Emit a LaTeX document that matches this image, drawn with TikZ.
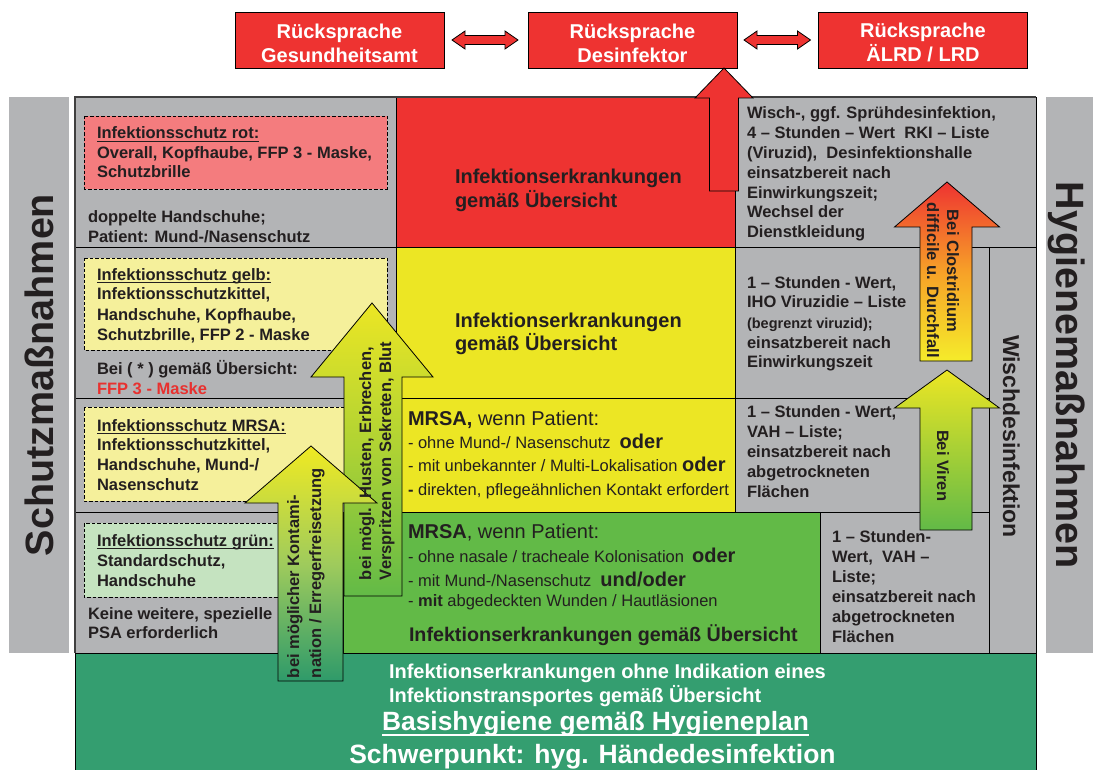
\documentclass[tikz,border=0pt]{standalone}
\usepackage{fontspec}
\setmainfont{Liberation Sans}
\usetikzlibrary{calc}
\definecolor{cgray}{HTML}{B3B4B6}
\definecolor{cred}{HTML}{EE3331}
\definecolor{cyel}{HTML}{ECE624}
\definecolor{cgrn}{HTML}{62BA47}
\definecolor{cdgrn}{HTML}{349E70}
\definecolor{cpink}{HTML}{F47C7E}
\definecolor{clyel}{HTML}{F5F09B}
\definecolor{clgrn}{HTML}{C5E3C0}
\definecolor{ctxt}{HTML}{231F20}
\definecolor{ctred}{HTML}{E8312F}
\newcommand\fsz[2]{\fontsize{#1}{#2}\selectfont}
\newcommand\mlines[1]{\vtop{\halign{##\hfil\cr#1\crcr}}}
\newcommand\myul[1]{\setbox0=\hbox{#1}\rlap{\rule[-3pt]{\wd0}{1.3pt}}\box0}
\newcommand\mybigul[1]{\setbox0=\hbox{#1}\rlap{\rule[-6pt]{\wd0}{2pt}}\box0}
\newcommand\dblarrow[2]{\draw[arr, fill=cred] (#1) -- ++(13,-9) -- ++(0,4.5) -- ($(#2)+(-13,-4.5)$) -- ++(0,-4.5) -- (#2) -- ++(-13,9) -- ++(0,-4.5) -- ($(#1)+(13,4.5)$) -- ++(0,4.5) -- cycle;}
\begin{document}
\begin{tikzpicture}[x=1pt,y=-1pt,
  every node/.style={inner sep=0pt, outer sep=0pt, text=ctxt, font=\bfseries\fsz{16.5}{19.8}},
  tl/.style={anchor=base west},
  cell/.style={draw=black, line width=0.8pt},
  dbox/.style={draw=black, line width=0.8pt, dash pattern=on 3.5pt off 2pt},
  arr/.style={draw=black, line width=0.8pt, line join=miter},
  topbox/.style={draw=black, line width=0.8pt, fill=cred, minimum width=209pt, minimum height=56pt, text=white, align=center, font=\bfseries\fsz{20}{24}},
  reg/.style={font=\mdseries\fsz{16.5}{20}}]
\useasboundingbox (0,0) rectangle (1093,770);
% side bands
\fill[cgray] (9,97) rectangle (69,653);
\fill[cgray] (1046,97) rectangle (1093,653);
% main grid
\fill[cgray] (75,97) rectangle (1036,653);
\draw[cell, fill=cred] (396,97) rectangle (735,247);
\draw[cell, fill=cyel] (396,247) rectangle (735,398);
\draw[cell, fill=cyel] (396,398) rectangle (735,512);
\draw[cell, fill=cgrn] (343,512) rectangle (820,653);
\draw[cell] (735,97) rectangle (1036,247);
\draw[cell] (735,247) rectangle (989,398);
\draw[cell] (735,398) rectangle (989,512);
\draw[cell] (820,512) rectangle (989,653);
\draw[cell] (989,247) rectangle (1036,653);
\draw[cell] (75,247) -- (396,247) (75,398) -- (396,398) (75,512) -- (343,512);
\draw[line width=1.6pt, black!75] (75,653) -- (75,97) -- (1036,97);
\draw[cell, fill=cdgrn] (75,653) rectangle (1036,771);
% dashed boxes
\draw[dbox, fill=cpink] (84,116) rectangle (387,189);
\draw[dbox, fill=clyel] (84,258) rectangle (387,350);
\draw[dbox, fill=clyel] (84,407) rectangle (387,501);
\draw[dbox, fill=clgrn] (84,523) rectangle (340,597);
% left column texts
\node[tl, font=\bfseries\fsz{16.5}{19.5}] (L1) at (97,139) {\mlines{\myul{Infektionsschutz rot:}\cr Overall, Kopfhaube, FFP 3 - Maske,\cr Schutzbrille}};
\node[tl, font=\bfseries\fsz{16.5}{19.5}] (L2) at (88,223) {\mlines{doppelte Handschuhe;\cr Patient: Mund-/Nasenschutz}};
\node[tl, font=\bfseries\fsz{16.5}{20}] (L3) at (97,280) {\mlines{\myul{Infektionsschutz gelb:}\cr Infektionsschutzkittel,\cr Handschuhe, Kopfhaube,\cr Schutzbrille, FFP 2 - Maske}};
\node[tl, font=\bfseries\fsz{16.5}{20}] (L4) at (97,374) {\mlines{Bei ( * ) gemäß Übersicht:\cr \textcolor{ctred}{FFP 3 - Maske}}};
\node[tl, font=\bfseries\fsz{16.5}{19.7}] (L5) at (97,431) {\mlines{\myul{Infektionsschutz MRSA:}\cr Infektionsschutzkittel,\cr Handschuhe, Mund-/\cr Nasenschutz}};
\node[tl, font=\bfseries\fsz{16.5}{20}] (L6) at (97,546) {\mlines{\myul{Infektionsschutz grün:}\cr Standardschutz,\cr Handschuhe}};
\node[tl, font=\bfseries\fsz{16.5}{19.5}] (L7) at (88,619) {\mlines{Keine weitere, spezielle\cr PSA erforderlich}};
% middle texts
\node[tl, font=\bfseries\fsz{20}{24}] (R1) at (455,184) {\mlines{Infektionserkrankungen\cr gemäß Übersicht}};
\node[tl, font=\bfseries\fsz{20}{23.5}] (Y1) at (455,327) {\mlines{Infektionserkrankungen\cr gemäß Übersicht}};
\node[tl, font=\mdseries\fsz{20}{24}] (ym1) at (408,425) {\textbf{MRSA,} wenn Patient:};
\node[tl, reg] (ym2) at (408,448.3) {- ohne Mund-/ Nasenschutz\hspace{9pt}{\bfseries\fsz{20}{24}oder}};
\node[tl, reg] (ym3) at (408,471.7) {- mit unbekannter / Multi-Lokalisation {\bfseries\fsz{20}{24}oder}};
\node[tl, reg] (ym4) at (408,495) {\textbf{-} direkten, pflegeähnlichen Kontakt erfordert};
\node[tl, font=\mdseries\fsz{20}{24}] (gm1) at (408,538.3) {\textbf{MRSA}, wenn Patient:};
\node[tl, reg] (gm2) at (408,562.7) {- ohne nasale / tracheale Kolonisation\hspace{8pt}{\bfseries\fsz{20}{24}oder}};
\node[tl, reg] (gm3) at (408,586.7) {- mit Mund-/Nasenschutz\hspace{9pt}{\bfseries\fsz{20}{24}und/oder}};
\node[tl, reg] (gm4) at (408,606.7) {- \textbf{mit} abgedeckten Wunden / Hautläsionen};
\node[tl, font=\bfseries\fsz{19.7}{24}] (gm5) at (409,641.7) {Infektionserkrankungen gemäß Übersicht};
% right column texts
\node[tl] (W1) at (747,119) {\mlines{Wisch-, ggf. Sprühdesinfektion,\cr 4 – Stunden – Wert\ \ RKI – Liste\cr (Viruzid),\ \ Desinfektionshalle\cr einsatzbereit nach\cr Einwirkungszeit;\cr Wechsel der\cr Dienstkleidung}};
\node[tl, font=\bfseries\fsz{16.5}{20}] (W2) at (747,288) {\mlines{1 – Stunden - Wert,\cr IHO Viruzidie – Liste\cr {\fsz{14.5}{20}(begrenzt viruzid);}\cr einsatzbereit nach\cr Einwirkungszeit}};
\node[tl, font=\bfseries\fsz{16.5}{20}] (W3) at (747,417) {\mlines{1 – Stunden - Wert,\cr VAH – Liste;\cr einsatzbereit nach\cr abgetrockneten\cr Flächen}};
\node[tl, font=\bfseries\fsz{16.5}{20}] (W4) at (832,542) {\mlines{1 – Stunden-\cr Wert,\ \ VAH –\cr Liste;\cr einsatzbereit nach\cr abgetrockneten\cr Flächen}};
% bottom band
\node[tl, text=white, font=\bfseries\fsz{20}{24}] (B1) at (389,678) {\mlines{Infektionserkrankungen ohne Indikation eines\cr Infektionstransportes gemäß Übersicht}};
\node[anchor=base, text=white, font=\bfseries\fsz{26.4}{30}] (B2) at (595.5,730) {\mybigul{Basishygiene gemäß Hygieneplan}};
\node[anchor=base, text=white, font=\bfseries\fsz{26.5}{30}] (B3) at (592.5,763) {Schwerpunkt: hyg. Händedesinfektion};
% top boxes
\node[topbox] (g) at (339.5,40) {\rule{0pt}{20.3pt}Rücksprache\\Gesundheitsamt};
\node[topbox] (d) at (632.5,40) {\rule{0pt}{20.3pt}Rücksprache\\Desinfektor};
\node[topbox] (l) at (923,40) {\rule{0pt}{20.3pt}Rücksprache\\ÄLRD / LRD};
\coordinate (a1s) at ($(g.east)+(8,0)$);
\coordinate (a1e) at ($(d.west)+(-10,0)$);
\coordinate (a2s) at ($(d.east)+(7,0)$);
\coordinate (a2e) at ($(l.west)+(-8,0)$);
\dblarrow{a1s}{a1e}
\dblarrow{a2s}{a2e}
\coordinate (tp) at ($(d.south east)+(-13,0)$);
\draw[arr, fill=cred] (tp) -- ++(29,30) -- ++(-14.5,0) -- ++(0,93) -- ++(-29,0) -- ++(0,-93) -- ++(-14.5,0) -- cycle;
% arrows
\draw[arr, top color=cyel, bottom color=cgrn, middle color={cyel!55!cgrn}] (372,303) -- (433,377) -- (402,377) -- (402,596) -- (344,596) -- (344,377) -- (311,377) -- cycle;
\draw[arr, top color={rgb,255:red,240;green,234;blue,34}, bottom color={rgb,255:red,46;green,154;blue,106}, middle color={rgb,255:red,159;green,203;blue,92}] (311,446) -- (377,503) -- (343,503) -- (343,681) -- (278,681) -- (278,503) -- (245,503) -- cycle;
\draw[arr, top color=cred, bottom color={rgb,255:red,245;green,236;blue,42}, middle color={rgb,255:red,247;green,161;blue,40}] (947,182) -- (999.5,227) -- (972,227) -- (972,361) -- (920,361) -- (920,227) -- (894.5,227) -- cycle;
\draw[arr, top color=cyel, bottom color=cgrn] (947,370) -- (999.5,408) -- (972,408) -- (972,530) -- (920,530) -- (920,408) -- (894.5,408) -- cycle;
% arrow texts
\node[tl, rotate=90, font=\bfseries\fsz{16.5}{22}] (ak) at (299,678) {\mlines{bei möglicher Kontami-\cr nation / Erregerfreisetzung}};
\node[tl, rotate=90, font=\bfseries\fsz{16.5}{20}] (ah) at (371,580) {\mlines{bei mögl.\ \ Husten, Erbrechen,\cr Verspritzen von Sekreten, Blut}};
\node[tl, rotate=-90, font=\bfseries\fsz{16.5}{20}] (ac) at (947,203) {\mlines{\hspace{7pt}Bei Clostridium\cr difficile u. Durchfall}};
\node[tl, rotate=-90] (av) at (937,430) {Bei Viren};
\node[tl, rotate=-90, font=\bfseries\fsz{23}{26}] (aw) at (1003,335) {Wischdesinfektion};
\node[tl, rotate=-90, font=\bfseries\fsz{39.5}{44}] (hy) at (1056,182) {Hygienemaßnahmen};
\node[tl, rotate=90, font=\bfseries\fsz{39.5}{44}] (sm) at (53,556) {Schutzmaßnahmen};
\end{tikzpicture}
\end{document}
